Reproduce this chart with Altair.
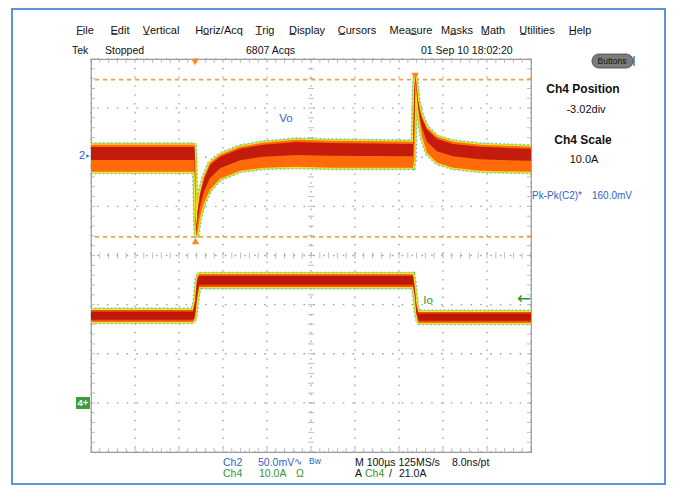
import altair as alt
import pandas as pd

# ---------------- values ----------------
# Horizontal: 100 us/div, 10 div.  Ch2 (Vo): 50 mV/div, Ch4 (Io): 10 A/div
CH2_SCALE, CH2_POS = 50.0, 2.04     # mV/div, div
CH4_SCALE, CH4_POS = 10.0, -3.02    # A/div, div

# Vo persistence envelope (time in us, upper / lower edge in mV)
vo_time = [-500, -264.8, -263.2, -262.0, -259.8, -258.4, -252.3, -243.2, -229.5, -206.8,
           -161.4, -109.1, -31.8, 43.2, 231.8, 234.8, 237.5, 240.9, 243.2, 247.7,
           252.3, 263.6, 286.4, 322.7, 384.1, 500]
vo_upper = [10.7, 10.7, -4.6, -60.6, -73.8, -57.5, -38.2, -21.9, -7.6, 0.5,
            8.7, 12.7, 15.8, 14.8, 13.7, 71.8, 82.0, 66.7, 56.5, 46.3,
            39.2, 28.0, 18.8, 13.7, 10.7, 8.7]
vo_lower = [-16.8, -16.8, -45.3, -77.9, -84.0, -79.9, -62.6, -48.4, -35.1, -23.9,
            -15.8, -12.7, -11.7, -12.7, -12.7, -4.6, 74.8, 56.5, 46.3, 31.1,
            18.8, 2.5, -7.6, -12.7, -15.8, -16.8]

# Io persistence envelope (time in us, upper / lower edge in A)
io_time = [-500, -268.2, -263.6, -259.1, -254.5, 231.8, 235.2, 239.8, 244.3, 500]
io_upper = [19.1, 19.1, 21.1, 25.6, 26.4, 26.4, 24.2, 20.1, 18.7, 18.7]
io_lower = [16.7, 16.7, 17.5, 21.1, 23.8, 23.8, 22.2, 18.1, 16.5, 16.5]

# Cursor levels (mV on Ch2)  -> Pk-Pk 160 mV
cursor_mv = [77.0, -83.0]

# graticule: 10 x 8 divisions
major_t = [-500, -400, -300, -200, -100, 0, 100, 200, 300, 400, 500]
major_d = [-4, -3, -2, -1, 0, 1, 2, 3, 4]

# ---------------- layout helpers (annotation placement only) ----------------
def px(X, Y):
    return (X - 311) / 0.44, (255.5 - Y) / 49.125

XS = alt.Scale(domain=[-500, 500], nice=False, zero=False)
YS = alt.Scale(domain=[-4, 4], nice=False, zero=False)
FONT = "Liberation Sans Narrow, Liberation Sans, Arial"
BLUE = "#2f63c4"
GREEN = "#2f962f"
GRIDC = "#a2a2a2"

def xq(f):
    return alt.X(f, type="quantitative", scale=XS, axis=None)

def yq(f):
    return alt.Y(f, type="quantitative", scale=YS, axis=None)

def xd(v):
    return alt.X(datum=v, type="quantitative", scale=XS, axis=None)

def yd(v):
    return alt.Y(datum=v, type="quantitative", scale=YS, axis=None)

layers = []

# dotted graticule lines
layers.append(alt.Chart(pd.DataFrame({"t": major_t})).mark_rule(
    color=GRIDC, strokeWidth=1.3, strokeDash=[1.6, 7.2]).encode(x=xq("t")))
layers.append(alt.Chart(pd.DataFrame({"d": major_d})).mark_rule(
    color=GRIDC, strokeWidth=1.3, strokeDash=[1.6, 8.225]).encode(y=yq("d")))

minor_t = pd.DataFrame({"t": [-500 + 20 * i for i in range(51)]})
minor_d = pd.DataFrame({"d": [round(-4 + 0.2 * i, 3) for i in range(41)]})
TICKC = "#a2a2a2"
layers += [
    alt.Chart(minor_t).mark_tick(orient="vertical", size=6, thickness=1, color=TICKC).encode(x=xq("t"), y=yd(0)),
    alt.Chart(minor_t).mark_tick(orient="vertical", size=4, thickness=1, yOffset=2, color=TICKC).encode(x=xq("t"), y=yd(4)),
    alt.Chart(minor_t).mark_tick(orient="vertical", size=4, thickness=1, yOffset=-2, color=TICKC).encode(x=xq("t"), y=yd(-4)),
    alt.Chart(minor_d).mark_tick(orient="horizontal", size=6, thickness=1, color=TICKC).encode(y=yq("d"), x=xd(0)),
    alt.Chart(minor_d).mark_tick(orient="horizontal", size=4, thickness=1, xOffset=2, color=TICKC).encode(y=yq("d"), x=xd(-500)),
    alt.Chart(minor_d).mark_tick(orient="horizontal", size=4, thickness=1, xOffset=-2, color=TICKC).encode(y=yq("d"), x=xd(500)),
]

# cursors
cur = alt.Chart(pd.DataFrame({"mv": cursor_mv})).transform_calculate(
    d=f"datum.mv/{CH2_SCALE}+{CH2_POS}")
layers.append(cur.mark_rule(color="#ff9a3c", strokeWidth=1.6, strokeDash=[4, 4]).encode(y=yq("d")))

# persistence traces
def trace(times, up, lo, scale, pos, core_top, core_bot, orange, dark):
    base = alt.Chart(pd.DataFrame({"t": times, "up": up, "lo": lo})).transform_calculate(
        hd=f"datum.up/{scale}+{pos}", ld=f"datum.lo/{scale}+{pos}"
    ).transform_calculate(
        ch=f"datum.hd-{core_top}*(datum.hd-datum.ld)",
        cl=f"datum.hd-{core_bot}*(datum.hd-datum.ld)",
    )
    out = []
    for f in ("hd", "ld"):
        out.append(base.mark_line(color="#2fb0e0", strokeWidth=5, strokeDash=[1.5, 2.5], opacity=0.9).encode(x=xq("t"), y=yq(f)))
    for f in ("hd", "ld"):
        out.append(base.mark_line(color="#9fd63a", strokeWidth=3.6).encode(x=xq("t"), y=yq(f)))
    for f in ("hd", "ld"):
        out.append(base.mark_line(color="#ffe21e", strokeWidth=2.2).encode(x=xq("t"), y=yq(f)))
    out.append(base.mark_area(color=orange).encode(x=xq("t"), y=yq("hd"), y2="ld:Q"))
    out.append(base.mark_area(color=dark).encode(x=xq("t"), y=yq("ch"), y2="cl:Q"))
    return out

layers += trace(vo_time, vo_upper, vo_lower, CH2_SCALE, CH2_POS, 0.08, 0.56, "#ff6a0a", "#c41c0c")
layers += trace(io_time, io_upper, io_lower, CH4_SCALE, CH4_POS, 0.15, 0.82, "#f05010", "#c01808")

# cursor / trigger triangles
tri_dn = pd.DataFrame([px(195, 62), px(415, 76)], columns=["t", "d"])
tri_up = pd.DataFrame([px(195.5, 241)], columns=["t", "d"])
layers.append(alt.Chart(tri_dn).mark_point(shape="triangle-down", filled=True, size=55, color="#ff8a1e", opacity=1).encode(x=xq("t"), y=yq("d")))
layers.append(alt.Chart(tri_up).mark_point(shape="triangle-up", filled=True, size=55, color="#ff8a1e", opacity=1).encode(x=xq("t"), y=yq("d")))

# ---------------- texts ----------------
def texts(items, color="#111111", size=11, weight="normal", align="left", font=FONT):
    rows = []
    for s, X, Y in items:
        t, d = px(X, Y)
        rows.append({"s": s, "t": t, "d": d})
    return alt.Chart(pd.DataFrame(rows)).mark_text(
        align=align, baseline="middle", font=font, fontSize=size, fontWeight=weight, color=color
    ).encode(x=xq("t"), y=yq("d"), text="s:N")

U = "\u0332"
menu = [("F" + U + "ile", 85, 31), ("E" + U + "dit", 120, 31), ("V" + U + "ertical", 161, 31),
        ("Ho" + U + "riz/Acq", 219, 31), ("T" + U + "rig", 265, 31), ("D" + U + "isplay", 307, 31),
        ("C" + U + "ursors", 357, 31), ("Meas" + U + "ure", 411, 31), ("Ma" + U + "sks", 457, 31),
        ("M" + U + "ath", 493, 31), ("U" + U + "tilities", 537, 31), ("H" + U + "elp", 580, 31)]
layers.append(texts(menu, size=11, align="center"))
layers.append(texts([("Tek", 72, 51), ("Stopped", 105, 51), ("6807 Acqs", 246, 51),
                     ("01 Sep 10 18:02:20", 421, 51)], size=10.5))

# Buttons widget
bt = pd.DataFrame([{"x1": px(592, 0)[0], "x2": px(633, 0)[0], "y1": px(0, 54)[1], "y2": px(0, 68)[1]}])
layers.append(alt.Chart(bt).mark_rect(cornerRadius=7, color="#7c7c7c", stroke="#404040", strokeWidth=0.8).encode(
    x=xq("x1"), x2="x2:Q", y=yq("y1"), y2="y2:Q"))
layers.append(texts([("Buttons", 612, 61)], size=8.5, align="center"))
layers.append(texts([("|", 634, 61)], size=11, align="center"))

layers.append(texts([("Ch4 Position", 583, 89), ("Ch4 Scale", 583, 140)], size=12,
                    weight="bold", align="center", font="Liberation Sans, Arial"))
layers.append(texts([("-3.02div", 586, 110), ("10.0A", 584, 160)], size=11, align="center"))
layers.append(texts([("Pk-Pk(C2)*", 532, 196), ("160.0mV", 592, 196)], color=BLUE, size=10))

# channel labels / markers
layers.append(texts([("Vo", 286, 119)], color=BLUE, size=11.5, align="center"))
layers.append(texts([("Io", 428, 301)], color=GREEN, size=11.5, align="center"))
layers.append(texts([("\u2190", 524, 299)], color=GREEN, size=17, align="center", font="DejaVu Sans"))
layers.append(texts([("2", 82, 156)], color=BLUE, size=11, align="center"))
layers.append(alt.Chart(pd.DataFrame([px(88, 156)], columns=["t", "d"])).mark_point(
    shape="triangle-right", filled=True, size=14, color=BLUE, opacity=1).encode(x=xq("t"), y=yq("d")))
g4 = pd.DataFrame([{"x1": px(76, 0)[0], "x2": px(90, 0)[0], "y1": px(0, 397)[1], "y2": px(0, 409)[1]}])
layers.append(alt.Chart(g4).mark_rect(color="#3f9c3f").encode(x=xq("x1"), x2="x2:Q", y=yq("y1"), y2="y2:Q"))
layers.append(texts([("4+", 83, 403)], color="white", size=9.5, weight="bold", align="center"))

# bottom status
layers.append(texts([("Ch2", 223, 463), ("50.0mV", 258, 463)], color=BLUE, size=10.5))
layers.append(texts([("\u223f", 298, 462)], color=BLUE, size=10, align="center"))
layers.append(texts([("Bw", 309, 461)], color=BLUE, size=8.5))
layers.append(texts([("M 100\u00b5s 125MS/s", 355, 463), ("8.0ns/pt", 452, 463),
                     ("A", 355, 474), ("/", 389, 474), ("21.0A", 399, 474)], size=10.5))
layers.append(texts([("Ch4", 223, 474), ("10.0A", 259, 474), ("\u03a9", 296, 474), ("Ch4", 365, 474)],
                    color=GREEN, size=10.5))

# outer blue frame
fr = pd.DataFrame([{"x1": px(12, 0)[0], "x2": px(665, 0)[0], "y1": px(0, 9)[1], "y2": px(0, 484)[1]}])
layers.append(alt.Chart(fr).mark_rect(fillOpacity=0, stroke="#5f92d8", strokeWidth=2).encode(
    x=xq("x1"), x2="x2:Q", y=yq("y1"), y2="y2:Q"))

chart = alt.layer(*layers).properties(
    width=440, height=393,
    padding={"left": 83, "top": 51, "right": 136, "bottom": 33},
    autosize="none", background="white",
).configure_view(stroke="#9a9a9a", strokeWidth=1.2)

chart.save("out.html", embed_options={"renderer": "svg", "actions": False})
